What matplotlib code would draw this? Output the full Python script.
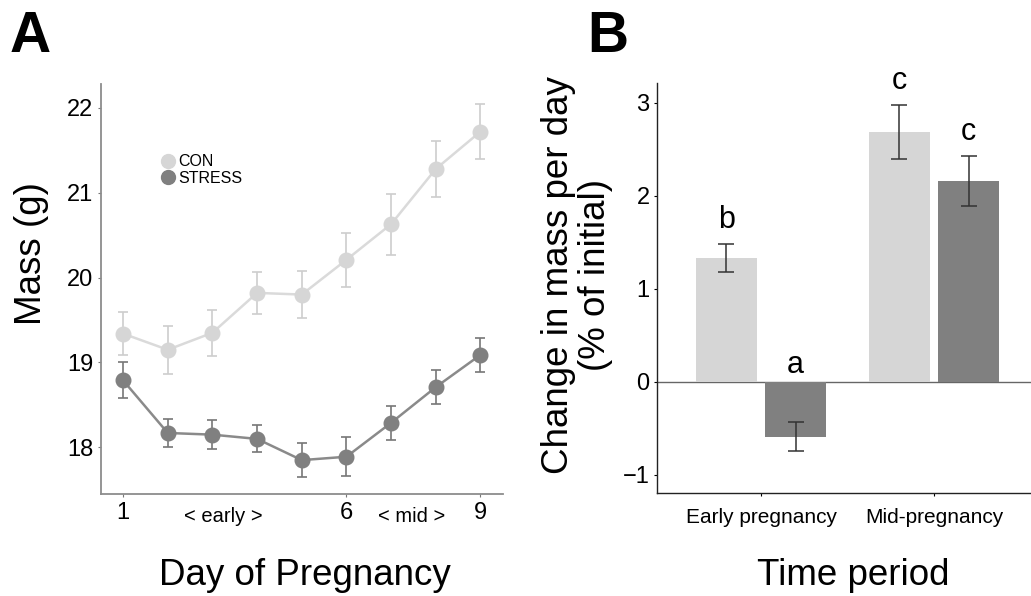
import matplotlib.pyplot as plt
from matplotlib.lines import Line2D
import numpy as np

plt.rcParams['font.family'] = ['Liberation Sans', 'DejaVu Sans']

# Panel A: body mass by day of pregnancy
days = [1, 2, 3, 4, 5, 6, 7, 8, 9]
con_mass = [19.34, 19.15, 19.35, 19.82, 19.80, 20.21, 20.63, 21.28, 21.72]
con_err = [0.25, 0.28, 0.27, 0.25, 0.28, 0.32, 0.36, 0.33, 0.32]
stress_mass = [18.79, 18.17, 18.15, 18.10, 17.85, 17.89, 18.29, 18.71, 19.09]
stress_err = [0.21, 0.17, 0.17, 0.16, 0.20, 0.23, 0.20, 0.20, 0.20]
day_ticks = [1, 6, 9]
phase_labels = ['< early >', '< mid >']
phase_pos = [3.25, 7.45]

# Panel B: change in mass per day
periods = ['Early pregnancy', 'Mid-pregnancy']
con_change = [1.33, 2.69]
con_change_err = [0.155, 0.29]
stress_change = [-0.59, 2.16]
stress_change_err = [0.16, 0.27]
con_letters = ['b', 'c']
stress_letters = ['a', 'c']

light = '#d6d6d6'
dark = '#808080'

fig = plt.figure(figsize=(10.31, 5.96), dpi=100)

# ---- A ----
axA = fig.add_axes([0.0977, 0.171, 0.390, 0.688])
axA.errorbar(days, con_mass, yerr=con_err, color='#dadada', ecolor='#cdcdcd',
             elinewidth=1.2, capsize=3.5, capthick=1.2, lw=1.8,
             marker='o', ms=10.5, mfc=light, mec=light, zorder=2)
axA.errorbar(days, stress_mass, yerr=stress_err, color='#8a8a8a', ecolor='#777777',
             elinewidth=1.2, capsize=3.5, capthick=1.2, lw=1.8,
             marker='o', ms=10.5, mfc=dark, mec=dark, zorder=3)
axA.set_xlim(0.5, 9.5)
axA.set_ylim(17.45, 22.28)
axA.set_xticks(day_ticks)
axA.set_yticks([18, 19, 20, 21, 22])
for s in ['top', 'right']:
    axA.spines[s].set_visible(False)
for s in ['left', 'bottom']:
    axA.spines[s].set_color('#8c8c8c')
    axA.spines[s].set_linewidth(1.3)
axA.tick_params(length=2.5, width=0.8, color='#777777', labelsize=17, pad=3)
for txt, xp in zip(phase_labels, phase_pos):
    axA.text(xp, -0.068, txt, transform=axA.get_xaxis_transform(),
             ha='center', va='baseline', fontsize=14.5)
handles = [Line2D([], [], ls='none', marker='o', ms=10, color=light),
           Line2D([], [], ls='none', marker='o', ms=10, color=dark)]
axA.legend(handles, ['CON', 'STRESS'], loc='center left',
           bbox_to_anchor=(0.135, 0.79), frameon=False, fontsize=11.5,
           handlelength=0.8, handletextpad=0.25, labelspacing=0.1,
           borderaxespad=0)
fig.text(0.1503 + 0.1454, 0.0185, 'Day of Pregnancy', ha='center',
         va='baseline', fontsize=26.5)
fig.text(0.031, 0.574, 'Mass (g)', rotation=90, ha='center', va='center',
         fontsize=26.5)
fig.text(0.009, 0.9128, 'A', fontsize=41, fontweight='bold', va='baseline')

# ---- B ----
axB = fig.add_axes([0.6375, 0.1723, 0.3625, 0.688])
x = np.arange(len(periods))
w = 0.35
axB.axhline(0, color='#666666', lw=1.0, zorder=1)
axB.bar(x - 0.2, con_change, w, color=light, zorder=2)
axB.bar(x + 0.2, stress_change, w, color=dark, zorder=2)
axB.errorbar(x - 0.2, con_change, yerr=con_change_err, fmt='none',
             ecolor='#333333', elinewidth=1.1, capsize=5.8, capthick=1.1, zorder=3)
axB.errorbar(x + 0.2, stress_change, yerr=stress_change_err, fmt='none',
             ecolor='#333333', elinewidth=1.1, capsize=5.8, capthick=1.1, zorder=3)
for i in range(len(periods)):
    axB.text(x[i] - 0.2, con_change[i] + con_change_err[i] + 0.17, con_letters[i],
             ha='center', va='baseline', fontsize=22)
    top = max(stress_change[i] + stress_change_err[i], 0) if stress_change[i] > 0 else 0
    off = 0.17 if stress_change[i] > 0 else 0.09
    axB.text(x[i] + 0.2, top + off, stress_letters[i],
             ha='center', va='baseline', fontsize=22)
axB.set_xlim(-0.6, 1.56)
axB.set_ylim(-1.2, 3.21)
axB.set_xticks(x)
axB.set_xticklabels(periods)
axB.set_yticks([-1, 0, 1, 2, 3])
axB.set_yticklabels(['\u22121', '0', '1', '2', '3'])
for s in ['top', 'right']:
    axB.spines[s].set_visible(False)
for s in ['left', 'bottom']:
    axB.spines[s].set_color('#222222')
    axB.spines[s].set_linewidth(1.0)
axB.tick_params(axis='y', length=2.5, width=0.8, labelsize=17, pad=3)
axB.tick_params(axis='x', length=2.5, width=0.8, labelsize=15, pad=8)
fig.text(853 / 1031, 0.0185, 'Time period', ha='center', va='baseline',
         fontsize=26.5)
fig.text(577 / 1031, 0.539, 'Change in mass per day\n(% of initial)',
         rotation=90, ha='center', va='center', fontsize=26.5,
         multialignment='center', linespacing=1.1)
fig.text(587 / 1031, 0.9128, 'B', fontsize=41, fontweight='bold', va='baseline')

fig.savefig('out.png', dpi=100)
